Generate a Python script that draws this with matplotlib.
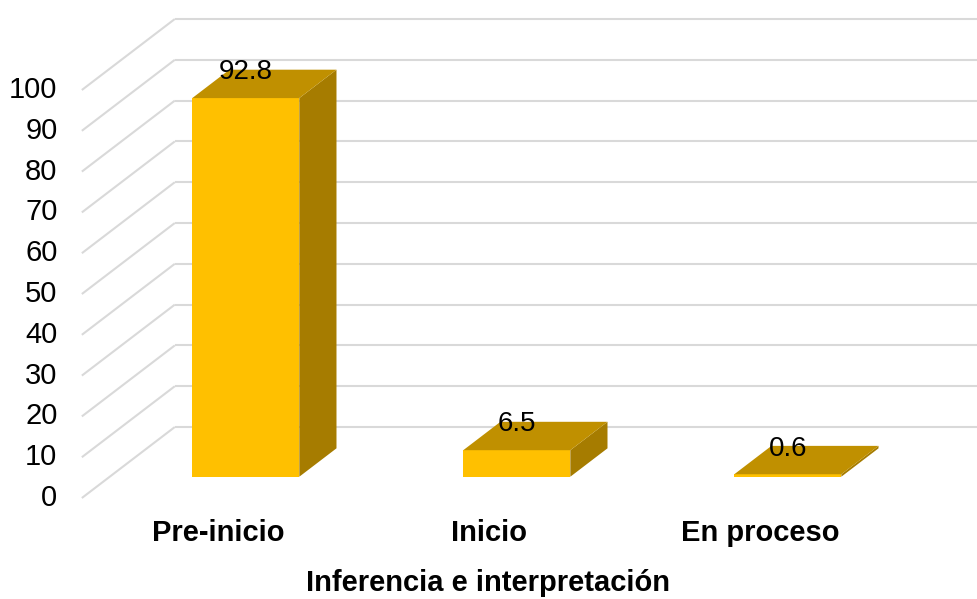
import matplotlib
matplotlib.use("Agg")
import matplotlib.pyplot as plt
from matplotlib.patches import Polygon

plt.rcParams['font.family'] = ['Liberation Sans', 'DejaVu Sans']

# data
categorias = ["Pre-inicio", "Inicio", "En proceso"]
valores = [92.8, 6.5, 0.6]
etiquetas = ["92.8", "6.5", "0.6"]
ticks_y = [0, 10, 20, 30, 40, 50, 60, 70, 80, 90, 100]
titulo_x = "Inferencia e interpretación"

# estilo
c_frente = "#FFC000"
c_techo = "#C09000"
c_lado = "#A67C00"
c_grid = "#D9D9D9"

# geometria del pseudo-3d (unidades de datos)
DX = 0.343     # desplazamiento horizontal de la profundidad total
DY = 17.4      # desplazamiento vertical de la profundidad total
ancho = 0.395
d0, d1 = 0.3, 0.7
x_pared = -0.502

fig = plt.figure(figsize=(9.77, 5.99), dpi=100)
ax = fig.add_axes([0, 0, 1, 1])
ax.set_xlim(-0.804, 2.801)
ax.set_ylim(-24.75, 122.06)
ax.axis('off')

def off(d):
    return d * DX, d * DY

# rejilla: pared izquierda (diagonales) y pared del fondo
for t in ticks_y:
    ax.plot([x_pared, x_pared + DX], [t, t + DY], color=c_grid, lw=1.5, zorder=1,
            solid_capstyle='butt')
    ax.plot([x_pared + DX, 2.801], [t + DY, t + DY], color=c_grid, lw=1.5, zorder=1,
            solid_capstyle='butt')
    ax.text(x_pared - 0.09, t, str(t), ha='right', va='center', fontsize=21, color='black')

# barras
for i, (v, lab) in enumerate(zip(valores, etiquetas)):
    ox0, oy0 = off(d0)
    ox1, oy1 = off(d1)
    xl = i - ancho / 2 + ox0
    xr = i + ancho / 2 + ox0
    yb = oy0
    yt = v + oy0
    frente = Polygon([(xl, yb), (xr, yb), (xr, yt), (xl, yt)], closed=True,
                     facecolor=c_frente, edgecolor='none', zorder=3)
    techo = Polygon([(xl, yt), (xr, yt), (xr + ox1 - ox0, yt + oy1 - oy0),
                     (xl + ox1 - ox0, yt + oy1 - oy0)], closed=True,
                    facecolor=c_techo, edgecolor='none', zorder=3)
    lado = Polygon([(xr, yb), (xr + ox1 - ox0, yb + oy1 - oy0),
                    (xr + ox1 - ox0, yt + oy1 - oy0), (xr, yt)], closed=True,
                   facecolor=c_lado, edgecolor='none', zorder=3)
    ax.add_patch(lado)
    ax.add_patch(frente)
    ax.add_patch(techo)
    ax.text(i + ox0, yt + 6.3, lab, ha='center', va='center', fontsize=20, color='black',
            zorder=5)
    ax.text(i, -8.6, categorias[i], ha='center', va='center', fontsize=21,
            fontweight='bold', color='black')

ax.text(0.995, -20.8, titulo_x, ha='center', va='center', fontsize=21,
        fontweight='bold', color='black')

fig.savefig("out.png", dpi=100, facecolor='white')
